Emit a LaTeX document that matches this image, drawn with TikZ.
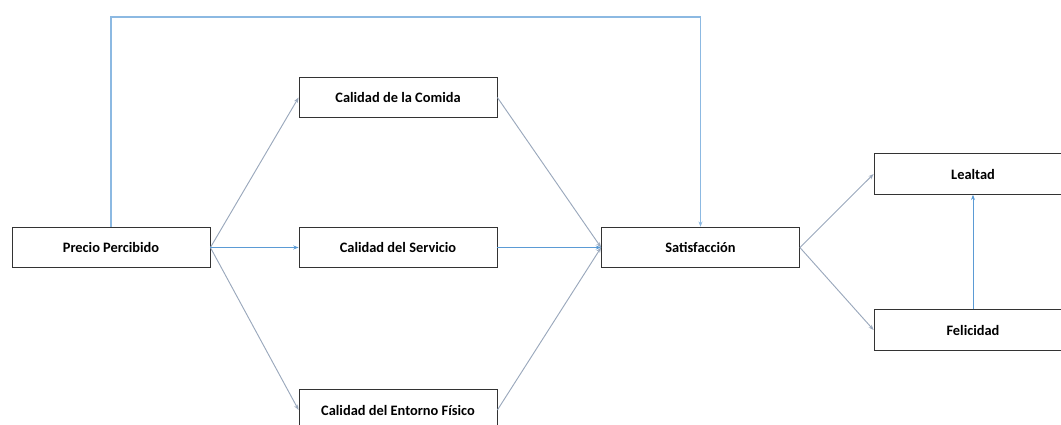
\documentclass[tikz,border=0pt]{standalone}
\usepackage{fontspec}
\setmainfont{Carlito}
\usetikzlibrary{arrows.meta}
\definecolor{lineblue}{HTML}{5B9BD5}
\definecolor{linegray}{HTML}{9AA8BC}
\begin{document}
\begin{tikzpicture}
          [x=0.75pt,y=-0.75pt,>={Stealth[length=4pt,width=3pt]},
           every node/.style={draw=black!80, line width=0.6pt, minimum width=148.5pt,
             minimum height=30.5pt, inner sep=0pt, font=\bfseries\fontsize{10.8}{13}\selectfont}]
        \useasboundingbox (0,0) rectangle (1061,425);

        \node (pp) at (111,247.5) {Precio Percibido};

        \node (com) at (398,97.5) {Calidad de la Comida};
        \node (ser) at (398,247.5) {Calidad del Servicio};
        \node (ent) at (398,410) {Calidad del Entorno Físico};

        \node (sat) at (700.5,247.5) {Satisfacción};

        \node (lea) at (973,174) {Lealtad};
        \node (fel) at (973,330) {Felicidad};

        \foreach \from/\to in {pp/com, pp/ent, com/sat, ent/sat, sat/lea, sat/fel}
          \draw[->, linegray, line width=0.7pt] (\from.east) -- (\to.west);

        \foreach \from/\to in {pp/ser, ser/sat}
          \draw[->, lineblue, line width=0.7pt] (\from.east) -- (\to.west);

        \draw[->, lineblue, line width=0.7pt] (fel.north) -- (lea.south);
        \draw[->, lineblue!70, line width=0.8pt] (pp.north) |- (111,17) -| (sat.north);
      \end{tikzpicture}
\end{document}
